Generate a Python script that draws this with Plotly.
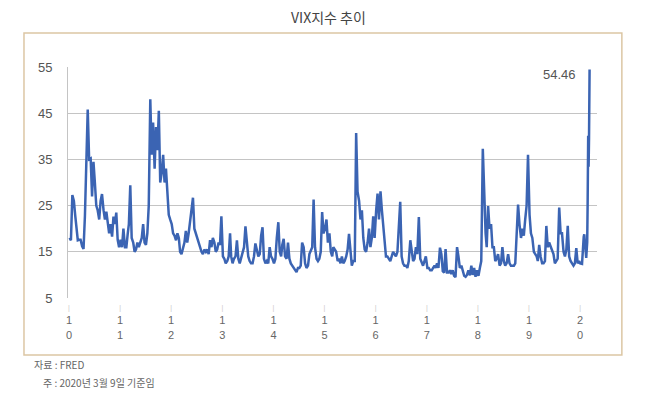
import plotly.graph_objects as go

# VIX readings, three per month (early / mid / late)
vix_2010 = [18, 17.5, 27.3, 26, 22.7, 19.5, 17.5, 17.6, 17.6, 16.2, 15.6, 22.8,
            33, 45.8, 35, 35.2, 27, 34.5, 30, 25, 24, 22, 26, 27.5,
            24, 22, 23.7, 21, 19, 21, 18.3, 22.6, 21, 23.5, 17.6, 16]
vix_2011 = [17.6, 16, 20, 16, 16, 19, 21, 29.4, 18, 17, 15, 15.5,
            17, 16, 17, 18, 21, 17, 16.5, 19, 25, 48, 36, 43,
            33, 42, 37, 45.5, 30, 32, 36, 30, 33, 27, 23, 22]
vix_2012 = [21, 19, 18.5, 17.5, 19, 18, 15, 14.5, 15.5, 17, 19.5, 17,
            19, 22, 24, 26.7, 20, 19, 18, 17, 16.5, 15, 14.5, 15.5,
            15, 15.5, 14.5, 17.5, 16, 18, 17, 15, 15.5, 17, 16.5, 22.7]
vix_2013 = [14, 13.5, 12.5, 13, 14, 19, 14, 12.5, 13.5, 14, 17.5, 13.5,
            12.5, 13.5, 14.5, 16, 20.5, 16.5, 14, 13, 12.5, 12.5, 14, 16.8,
            15, 14, 14.5, 18.5, 20.3, 13.5, 12.5, 13, 12.5, 16, 14, 13.5]
vix_2014 = [12.5, 13.5, 18, 21.4, 15, 14, 16.5, 17.8, 14, 13.5, 17, 13.5,
            12.5, 12, 11.5, 11, 10.6, 11.5, 11.5, 12, 17, 16, 12.5, 11.5,
            12, 14.5, 15.5, 16, 26.3, 16, 13.5, 13, 13.5, 15, 23.6, 19]
vix_2015 = [20, 22, 17, 19, 15, 14, 16, 15.5, 15, 13, 13.5, 12.5,
            14, 12.5, 13, 14, 15.5, 18.9, 16, 12, 13, 13, 40.7, 28,
            26, 22, 24, 18, 15.5, 15, 17, 20, 16, 18, 22.7, 18]
vix_2016 = [24, 27.6, 22, 28.1, 24, 20, 16, 14, 14, 13.5, 13, 14,
            15, 14.5, 14, 15, 20, 25.8, 14, 12.5, 12, 12, 11.5, 13,
            17.5, 15, 13, 13.5, 16, 14.5, 22.5, 13.5, 12.5, 12, 13, 14]
vix_2017 = [11.5, 11.5, 11, 11, 11.5, 12, 11.5, 12.5, 11.5, 15.9, 14.5, 10.8,
            10.5, 15.6, 10.5, 10.5, 11, 10.2, 11, 9.8, 9.5, 16, 14, 11.5,
            12, 10.5, 9.8, 9.6, 10, 11, 9.9, 12, 10, 11.5, 9.6, 11]
vix_2018 = [9.8, 11.5, 13, 37.3, 25, 19, 16, 24.9, 20, 21, 16, 16,
            13, 13.5, 14.5, 12, 12.5, 16, 13, 12, 12.5, 14.5, 12.5, 12,
            12, 12, 12.5, 19, 25.2, 21, 18, 20, 18.5, 22, 25, 36]
vix_2019 = [23, 19, 18, 15, 14.5, 14, 13, 16.5, 14, 12.5, 12.5, 13,
            20.6, 16, 17, 16, 15.5, 14.5, 12.5, 13, 13.5, 24.6, 19, 19,
            15, 14, 15.5, 20.6, 14, 13, 12.5, 12, 12.5, 15.8, 12.5, 13]
dates_2020 = ["2020-01-02", "2020-01-15", "2020-01-27", "2020-01-31", "2020-02-14", "2020-02-21",
              "2020-02-24", "2020-02-27", "2020-02-28", "2020-03-02", "2020-03-05", "2020-03-06", "2020-03-09"]
vix_2020 = [12.5, 12.4, 18.2, 18.8, 13.7, 17.1, 25.0, 39.2, 40.1, 33.4, 39.6, 41.9, 54.46]

yearly = {2010: vix_2010, 2011: vix_2011, 2012: vix_2012, 2013: vix_2013, 2014: vix_2014,
          2015: vix_2015, 2016: vix_2016, 2017: vix_2017, 2018: vix_2018, 2019: vix_2019}

years = list(range(2010, 2021))
year_labels = ["1<br>0", "1<br>1", "1<br>2", "1<br>3", "1<br>4", "1<br>5",
               "1<br>6", "1<br>7", "1<br>8", "1<br>9", "2<br>0"]
y_ticks = [5, 15, 25, 35, 45, 55]
days = [5, 15, 25]

dates, values = [], []
for yr, vals in yearly.items():
    for i, v in enumerate(vals):
        month = i // 3 + 1
        dates.append(f"{yr}-{month:02d}-{days[i % 3]:02d}")
        values.append(v)
dates += dates_2020
values += vix_2020

fig = go.Figure()
fig.add_trace(go.Scatter(x=dates, y=values, mode="lines",
                         line=dict(color="#3b64b3", width=2.5), hoverinfo="skip"))

tick_mark = "<span style='color:#c8c8c8;font-size:7px'>|</span>"
fig.update_layout(
    width=650, height=394,
    margin=dict(l=68, r=53, t=67, b=96),
    paper_bgcolor="white", plot_bgcolor="white",
    showlegend=False,
    font=dict(family="Liberation Sans, Arial, sans-serif", color="#555"),
    xaxis=dict(
        type="date",
        range=["2009-12-25", "2020-05-01"],
        tickvals=[f"{y}-01-01" for y in years],
        ticktext=[tick_mark + "<br>" + t for t in year_labels],
        ticks="", showgrid=False, zeroline=False,
        showline=False,
        tickfont=dict(size=11, color="#666"),
    ),
    yaxis=dict(
        range=[5, 55], tickvals=y_ticks, ticktext=[str(v) for v in y_ticks],
        ticks="", showgrid=True, gridcolor="#c4c4c4", gridwidth=1,
        zeroline=False, showline=True, linecolor="#c4c4c4", linewidth=1,
        tickfont=dict(size=13, color="#555"),
        ticklabelstandoff=12,
    ),
    shapes=[
        dict(type="rect", xref="paper", yref="paper",
             x0=-0.0832, x1=1.047, y0=-0.247, y1=1.147,
             line=dict(color="#dcc6a4", width=1.5), fillcolor="rgba(0,0,0,0)", layer="below"),
    ],
    annotations=[
        dict(text="VIX지수 추이", xref="paper", yref="paper", x=0.493, y=1.217,
             showarrow=False, xanchor="center", yanchor="middle",
             font=dict(family="Noto Sans CJK KR", size=14, color="#444")),
        dict(text="54.46", x="2019-08-10", y=53.3, showarrow=False,
             xanchor="center", yanchor="middle",
             font=dict(size=13, color="#555")),
        dict(text="자료 : FRED", xref="paper", yref="paper", x=-0.068, y=-0.29,
             showarrow=False, xanchor="left", yanchor="middle",
             font=dict(family="Noto Sans CJK KR", size=10, color="#666")),
        dict(text="주 : 2020년 3월 9일 기준임", xref="paper", yref="paper", x=-0.051, y=-0.364,
             showarrow=False, xanchor="left", yanchor="middle",
             font=dict(family="Noto Sans CJK KR", size=10, color="#666")),
    ],
)

fig.write_html("out.html")
